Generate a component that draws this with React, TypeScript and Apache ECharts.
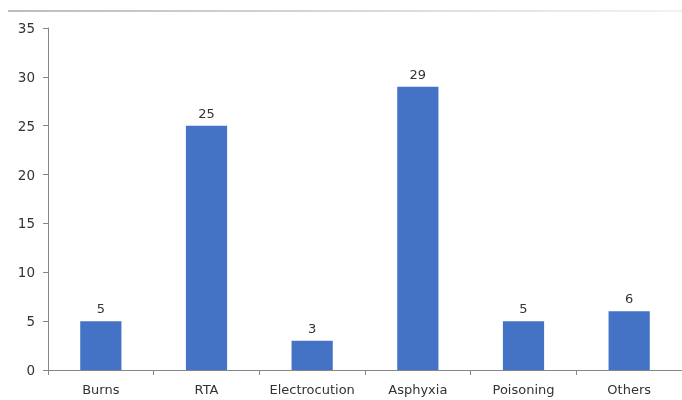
import React, { useEffect, useRef } from "react";
import * as echarts from "echarts";

const categories = ["Burns", "RTA", "Electrocution", "Asphyxia", "Poisoning", "Others"];
const values = [5, 25, 3, 29, 5, 6];

export default function App() {
  const ref = useRef<HTMLDivElement>(null);
  useEffect(() => {
    if (!ref.current) return;
    const chart = echarts.init(ref.current, null, { renderer: "svg" });
    chart.setOption({
      animation: false,
      textStyle: { fontFamily: "DejaVu Sans" },
      graphic: [
        {
          type: "rect",
          z: 100,
          shape: { x: 8, y: 10, width: 674, height: 2 },
          style: {
            fill: new echarts.graphic.LinearGradient(0, 0, 1, 0, [
              { offset: 0, color: "#bdbdbd" },
              { offset: 1, color: "#f2f2f2" },
            ]),
          },
        },
      ],
      grid: { left: 48, right: 0, top: 28, bottom: 30, containLabel: false },
      xAxis: {
        type: "category",
        data: categories,
        axisLine: { lineStyle: { color: "#868686", width: 1 } },
        axisTick: { show: true, interval: 0, length: 5, lineStyle: { color: "#868686" } },
        axisLabel: { color: "#333333", fontSize: 13, margin: 13, interval: 0 },
      },
      yAxis: {
        type: "value",
        min: 0,
        max: 35,
        interval: 5,
        splitLine: { show: false },
        axisLine: { show: true, lineStyle: { color: "#868686", width: 1 } },
        axisTick: { show: true, length: 5, lineStyle: { color: "#868686" } },
        axisLabel: { color: "#333333", fontSize: 13.5, margin: 13 },
      },
      series: [
        {
          type: "bar",
          data: values,
          barWidth: "39%",
          itemStyle: { color: "#4472C4" },
          label: { show: true, position: "top", color: "#333333", fontSize: 13, distance: 6 },
        },
      ],
    });
    return () => chart.dispose();
  }, []);
  return (
    <div
      ref={ref}
      style={{ position: "fixed", left: 0, top: 0, width: 682, height: 400 }}
    />
  );
}
